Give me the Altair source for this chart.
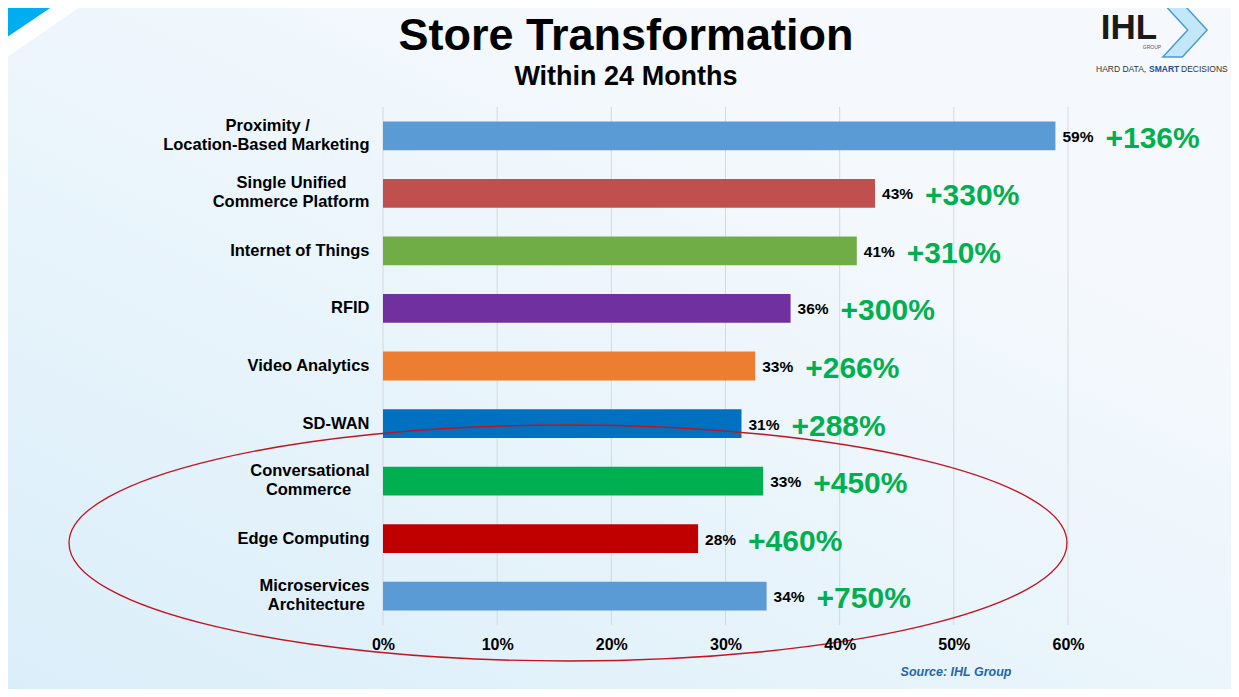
import altair as alt
import pandas as pd

# ---------------- data ----------------
categories = [
    "Proximity /|Location-Based Marketing",
    "Single Unified|Commerce Platform",
    "Internet of Things",
    "RFID",
    "Video Analytics",
    "SD-WAN",
    "Conversational|Commerce",
    "Edge Computing",
    "Microservices|Architecture",
]
values = [58.9, 43.1, 41.5, 35.7, 32.6, 31.4, 33.3, 27.6, 33.6]
value_labels = ["59%", "43%", "41%", "36%", "33%", "31%", "33%", "28%", "34%"]
growth_labels = ["+136%", "+330%", "+310%", "+300%", "+266%", "+288%", "+450%", "+460%", "+750%"]
bar_colors = ["#5B9BD5", "#C0504D", "#70AD47", "#7030A0", "#ED7D31",
              "#0070C0", "#00B050", "#C00000", "#5B9BD5"]
x_ticks = [0, 10, 20, 30, 40, 50, 60]

# trailing no-break spaces (closed by a zero-width space so they are not trimmed)
# make the shorter line of a two-line label look centred under/above the longer one
line_pad = {"Proximity /": 13, "Single Unified": 5, "Commerce": 4, "Architecture": 1}
labels = ["|".join(l + ("\u00a0" * line_pad[l] + "\u200b" if l in line_pad else "")
                   for l in c.split("|")) for c in categories]

df = pd.DataFrame({"label": labels, "value": values,
                   "vlabel": value_labels, "glabel": growth_labels})
ticks_df = pd.DataFrame({"tick": x_ticks})
one = pd.DataFrame({"d": [0]})

FONT = "Liberation Sans"
W, H = 685, 518

x_scale = alt.Scale(domain=[0, 60], nice=False, zero=True)
y_scale = alt.Scale(paddingInner=0.5, paddingOuter=0.25)
y_axis = alt.Axis(title=None, labelExpr="split(datum.label, '|')",
                  labelFont=FONT, labelFontSize=16.5, labelFontWeight="bold",
                  labelColor="#000000", labelPadding=14, labelLimit=400,
                  labelLineHeight=19, ticks=False, domain=False, grid=False,
                  labelBaseline={"condition": {"test": "indexof(datum.value, '|') >= 0",
                                               "value": "line-bottom"},
                                 "value": "middle"},
                  zindex=2)
x_axis = alt.Axis(values=x_ticks, labelExpr="datum.value + '%'", title=None,
                  grid=False, ticks=False, domain=False, labelFont=FONT,
                  labelFontSize=16, labelFontWeight="bold", labelColor="#000000",
                  labelPadding=11, labelFlush=False, zindex=2)

X = alt.X("value:Q", scale=x_scale, axis=x_axis)
Y = alt.Y("label:N", sort=labels, scale=y_scale, axis=y_axis)

# background (gradient) covering the whole canvas
bg = alt.Chart(one).mark_rect(
    fill=alt.Gradient(gradient="linear", x1=0, y1=1, x2=0.7, y2=0.2,
                      stops=[alt.GradientStop(color="#DAEEF9", offset=0),
                             alt.GradientStop(color="#F5F9FD", offset=1)])
).encode(x=alt.value(-375), x2=alt.value(W + 163), y=alt.value(-99), y2=alt.value(H + 64))

white_band = alt.Chart(one).mark_point(
    shape="M -1 -0.689 L 1 -0.689 L -1 0.689 Z", filled=True, fill="#FFFFFF",
    opacity=1, size=8100, strokeWidth=0
).encode(x=alt.value(45 - 383), y=alt.value(31 - 107))

blue_tri = alt.Chart(one).mark_point(
    shape="M -1 -0.677 L 1 -0.677 L -1 0.677 Z", filled=True, fill="#00AEEF",
    opacity=1, size=3844, strokeWidth=0
).encode(x=alt.value(31 - 383), y=alt.value(21 - 107))

grid = alt.Chart(ticks_df).mark_rule(color="#D6D8DC", strokeWidth=1).encode(
    x=alt.X("tick:Q", scale=x_scale, axis=x_axis))

bars = alt.Chart(df).mark_bar().encode(
    x=X, y=Y,
    color=alt.Color("label:N", scale=alt.Scale(domain=labels, range=bar_colors), legend=None),
)

vtext = alt.Chart(df).mark_text(align="left", baseline="middle", dx=7, dy=1, font=FONT,
                                fontSize=15.5, fontWeight="bold", color="#000000").encode(
    x=X, y=Y, text="vlabel:N")

gtext = alt.Chart(df).mark_text(align="left", baseline="middle", dx=50, dy=3, font=FONT,
                                fontSize=30, fontWeight="bold", color="#00B050").encode(
    x=X, y=Y, text="glabel:N")

ellipse = alt.Chart(one).mark_point(
    shape="M -1 0 A 1 0.2365 0 1 0 1 0 A 1 0.2365 0 1 0 -1 0 Z",
    filled=False, color="#C0141E", strokeWidth=1.3, opacity=1, size=996004
).encode(x=alt.value(568 - 383), y=alt.value(543 - 107))

def txt(text, x, y, size, color="#000000", weight="bold", align="center", style="normal", font=FONT):
    return alt.Chart(one).mark_text(text=text, font=font, fontSize=size, fontWeight=weight,
                                    fontStyle=style, color=color, align=align,
                                    baseline="alphabetic").encode(x=alt.value(x), y=alt.value(y))

title = txt("Store Transformation", 626 - 383, 50 - 107, 45)
subtitle = txt("Within 24 Months", 626 - 383, 85 - 107, 27)

chevron = alt.Chart(one).mark_point(
    shape="M -0.82 -1 L -0.1 -1 L 0.82 0 L -0.1 1 L -0.82 1 L 0.1 0 Z",
    filled=True, fill="#BDE6F8", stroke="#3C8FD6", strokeWidth=1.5, opacity=0.9, size=2916
).encode(x=alt.value(1185 - 383), y=alt.value(30 - 107))
logo = txt("IHL", 1129 - 383, 39 - 107, 35, color="#1A1A1A")
logo_group = txt("GROUP", 1152 - 383, 49 - 107, 5, color="#555555", weight="normal")
tag1 = txt("HARD DATA,", 1096 - 383, 72 - 107, 8.5, color="#333333", weight="normal", align="left")
tag2 = txt("SMART", 1149 - 383, 72 - 107, 8.5, color="#1F4E9A", weight="bold", align="left")
tag3 = txt("DECISIONS", 1181 - 383, 72 - 107, 8.5, color="#333333", weight="normal", align="left")

source = txt("Source: IHL Group", 956 - 383, 676 - 107, 12.5, color="#1F66AE",
             weight="bold", style="italic")

chart = alt.layer(
    bg, white_band, blue_tri, grid, bars, vtext, gtext, ellipse,
    title, subtitle, chevron, logo, logo_group, tag1, tag2, tag3, source
).properties(
    width=W, height=H,
    autosize=alt.AutoSizeParams(type="none"),
    padding={"left": 375, "top": 99, "right": 163, "bottom": 64},
    background="#EEF5FC",
).configure_view(stroke=None)

chart.save("out.html", embed_options={"renderer": "svg", "actions": False})
